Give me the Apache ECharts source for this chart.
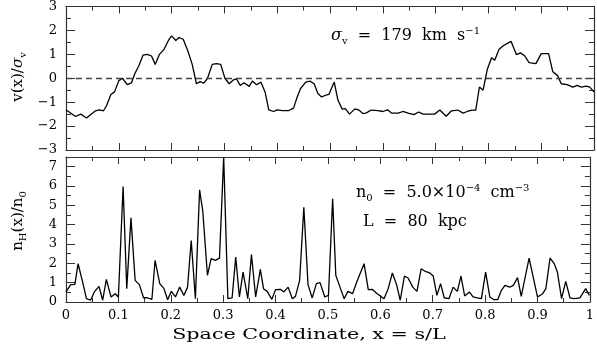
<!DOCTYPE html>
<html>
<head>
<meta charset="utf-8">
<script src="https://cdn.jsdelivr.net/npm/echarts@6/dist/echarts.min.js"></script>
<style>
  html, body { margin: 0; padding: 0; background: #fff; }
  #chart { width: 597px; height: 350px; }
</style>
</head>
<body>
<div id="chart"></div>
<script>
// velocity v(x)/sigma_v along the sightline
const velX = [0, 0.018, 0.028, 0.039, 0.047, 0.056, 0.063, 0.071, 0.077, 0.085, 0.092, 0.100, 0.107, 0.116, 0.124, 0.130,
  0.138, 0.146, 0.154, 0.162, 0.169, 0.177, 0.186, 0.194, 0.200, 0.208, 0.214, 0.222, 0.231, 0.239, 0.247, 0.254,
  0.261, 0.268, 0.277, 0.285, 0.293, 0.301, 0.309, 0.317, 0.323, 0.330, 0.337, 0.347, 0.353, 0.361, 0.369, 0.377,
  0.384, 0.393, 0.400, 0.410, 0.422, 0.431, 0.437, 0.444, 0.454, 0.462, 0.470, 0.477, 0.484, 0.492, 0.498, 0.508,
  0.515, 0.523, 0.529, 0.537, 0.547, 0.554, 0.563, 0.569, 0.578, 0.591, 0.600, 0.609, 0.617, 0.629, 0.638, 0.648,
  0.659, 0.668, 0.676, 0.686, 0.698, 0.708, 0.720, 0.730, 0.742, 0.752, 0.760, 0.769, 0.776, 0.783, 0.790, 0.798,
  0.806, 0.812, 0.820, 0.828, 0.837, 0.843, 0.853, 0.861, 0.869, 0.877, 0.890, 0.900, 0.914, 0.922, 0.931, 0.938,
  0.949, 0.960, 0.968, 0.976, 0.985, 0.992, 1.000];
const velY = [-1.32, -1.6, -1.5, -1.66, -1.52, -1.36, -1.32, -1.36, -1.14, -0.68, -0.57, -0.10, 0.0, -0.27, -0.19, 0.18,
  0.52, 0.97, 1.0, 0.93, 0.58, 1.0, 1.22, 1.58, 1.77, 1.58, 1.7, 1.63, 1.13, 0.58, -0.23, -0.14,
  -0.2, 0.0, 0.58, 0.61, 0.58, 0.0, -0.23, -0.07, -0.03, -0.3, -0.19, -0.34, -0.12, -0.27, -0.16, -0.57,
  -1.32, -1.39, -1.32, -1.35, -1.35, -1.25, -0.84, -0.44, -0.16, -0.12, -0.23, -0.64, -0.78, -0.71, -0.67, -0.16,
  -0.91, -1.29, -1.27, -1.5, -1.28, -1.32, -1.48, -1.45, -1.33, -1.35, -1.39, -1.32, -1.46, -1.46, -1.39, -1.46,
  -1.52, -1.41, -1.5, -1.5, -1.5, -1.33, -1.59, -1.36, -1.33, -1.46, -1.39, -1.33, -1.33, -0.37, -0.5, 0.38,
  0.86, 0.75, 1.2, 1.36, 1.47, 1.54, 0.99, 1.06, 0.93, 0.65, 0.61, 1.03, 1.03, 0.27, 0.11, -0.23,
  -0.27, -0.37, -0.30, -0.37, -0.33, -0.37, -0.57];

// density n_H(x)/n_0
const denX = [0, 0.009, 0.017, 0.023, 0.031, 0.039, 0.047, 0.054, 0.063, 0.070, 0.077, 0.086, 0.094, 0.100, 0.109, 0.116,
  0.124, 0.132, 0.140, 0.148, 0.155, 0.164, 0.170, 0.179, 0.187, 0.194, 0.201, 0.209, 0.217, 0.225, 0.232, 0.239,
  0.247, 0.255, 0.261, 0.270, 0.277, 0.285, 0.293, 0.301, 0.309, 0.317, 0.324, 0.331, 0.338, 0.347, 0.354, 0.362,
  0.371, 0.377, 0.384, 0.393, 0.400, 0.410, 0.416, 0.424, 0.432, 0.438, 0.446, 0.454, 0.462, 0.470, 0.478, 0.485,
  0.494, 0.501, 0.509, 0.515, 0.523, 0.531, 0.538, 0.547, 0.555, 0.569, 0.577, 0.585, 0.594, 0.607, 0.615, 0.623,
  0.631, 0.638, 0.646, 0.653, 0.662, 0.670, 0.678, 0.686, 0.694, 0.701, 0.708, 0.715, 0.722, 0.731, 0.739, 0.747,
  0.754, 0.761, 0.770, 0.777, 0.785, 0.793, 0.801, 0.809, 0.817, 0.824, 0.831, 0.838, 0.847, 0.854, 0.862, 0.869,
  0.884, 0.900, 0.910, 0.916, 0.924, 0.932, 0.938, 0.946, 0.954, 0.962, 0.970, 0.981, 0.992, 0.999];
const denY = [0.52, 0.9, 0.91, 1.98, 1.12, 0.17, 0.09, 0.52, 0.81, 0.09, 1.17, 0.26, 0.43, 0.26, 5.97, 0.69,
  4.35, 1.12, 0.9, 0.22, 0.22, 0.14, 2.15, 0.95, 0.69, 0.12, 0.55, 0.26, 0.77, 0.34, 0.77, 3.18,
  0.17, 5.8, 4.73, 1.38, 2.24, 2.15, 2.27, 7.5, 0.17, 0.21, 2.32, 0.26, 1.55, 0.17, 2.46, 0.26,
  1.69, 0.69, 0.55, 0.14, 0.64, 0.65, 0.52, 0.77, 0.17, 0.29, 1.12, 4.9, 0.9, 0.21, 0.95, 1.0,
  0.26, 0.34, 5.34, 1.38, 0.77, 0.17, 0.55, 0.43, 1.03, 1.98, 0.64, 0.65, 0.43, 0.17, 0.69, 1.5,
  0.9, 0.09, 1.34, 1.24, 0.77, 0.55, 1.72, 1.58, 1.51, 1.34, 0.34, 0.95, 0.22, 0.17, 0.77, 0.55,
  1.34, 0.31, 0.52, 0.26, 0.21, 0.17, 1.55, 0.26, 0.12, 0.12, 0.6, 0.86, 0.77, 0.86, 1.26, 0.29,
  2.27, 0.26, 0.43, 0.69, 2.27, 1.98, 1.55, 0.17, 1.07, 0.21, 0.17, 0.21, 0.69, 0.34];

const FONT = 'DejaVu Serif';
const AXIS_COLOR = '#333';

const zip = (xs, ys) => xs.map((x, i) => [x, ys[i]]);
const minus = (v) => (v < 0 ? '\u2212' + Math.abs(v) : String(v));

// rich text pieces: normal, italic, subscript, superscript
const rich = (size) => ({
  a: { fontFamily: FONT, fontSize: size, fill: '#000', lineHeight: 20 },
  g: { fontFamily: FONT, fontSize: size, fill: '#000', lineHeight: 20, fontStyle: 'italic' },
  s: { fontFamily: FONT, fontSize: 10, fill: '#000', lineHeight: 10, verticalAlign: 'bottom' },
  p: { fontFamily: FONT, fontSize: 10, fill: '#000', lineHeight: 10, verticalAlign: 'top' }
});

function xAx(gridIndex, position, withLabels) {
  return {
    type: 'value', gridIndex, position, min: 0, max: 1, interval: 0.1,
    axisLine: { show: true, onZero: false, lineStyle: { color: AXIS_COLOR, width: 1.2 } },
    axisTick: { show: true, inside: true, length: 7, lineStyle: { color: AXIS_COLOR } },
    minorTick: { show: true, splitNumber: 2, length: 4, lineStyle: { color: AXIS_COLOR } },
    splitLine: { show: false },
    axisLabel: {
      show: withLabels, margin: 7, color: '#000', fontFamily: FONT, fontSize: 13,
      formatter: (v) => String(+v.toFixed(2))
    }
  };
}

function yAx(gridIndex, position, min, max, withLabels) {
  return {
    type: 'value', gridIndex, position, min, max, interval: 1,
    axisLine: { show: true, onZero: false, lineStyle: { color: AXIS_COLOR, width: 1.2 } },
    axisTick: { show: true, inside: true, length: 9, lineStyle: { color: AXIS_COLOR } },
    minorTick: { show: true, splitNumber: 2, length: 5, lineStyle: { color: AXIS_COLOR } },
    splitLine: { show: false },
    axisLabel: {
      show: withLabels, margin: 9, color: '#000', fontFamily: FONT, fontSize: 13,
      showMaxLabel: max === 3, formatter: minus
    }
  };
}

const chart = echarts.init(document.getElementById('chart'));

const option = {
  backgroundColor: '#fff',
  animation: false,
  grid: [
    { left: 66, right: 3, top: 4, height: 146 },
    { left: 66, right: 3, top: 157, height: 145 }
  ],
  xAxis: [
    xAx(0, 'bottom', false),
    xAx(0, 'top', false),
    xAx(1, 'bottom', true),
    xAx(1, 'top', false)
  ],
  yAxis: [
    yAx(0, 'left', -3, 3, true),
    yAx(0, 'right', -3, 3, false),
    yAx(1, 'left', 0, 7.5, true),
    yAx(1, 'right', 0, 7.5, false)
  ],
  graphic: [
    {
      // x axis title (wide plotter lettering)
      type: 'text', x: 309, y: 335, scaleX: 1.38, silent: true,
      style: {
        text: 'Space Coordinate, x = s/L', font: '15px "DejaVu Serif"', fill: '#000',
        align: 'center', verticalAlign: 'middle'
      }
    },
    {
      type: 'text', x: 18, y: 77, rotation: Math.PI / 2, silent: true,
      style: { text: '{a|v(x)/}{g|σ}{s|v}', rich: rich(15), align: 'center', verticalAlign: 'middle' }
    },
    {
      type: 'text', x: 18, y: 221, rotation: Math.PI / 2, silent: true,
      style: { text: '{a|n}{s|H}{a|(x)/n}{s|0}', rich: rich(15), align: 'center', verticalAlign: 'middle' }
    },
    {
      type: 'text', x: 331, y: 36, silent: true,
      style: { text: '{g|σ}{s|v}{a|  =  179  km  s}{p|\u22121}', rich: rich(16), verticalAlign: 'middle' }
    },
    {
      type: 'text', x: 356, y: 193, silent: true,
      style: { text: '{a|n}{s|0}{a|  =  5.0×10}{p|\u22124}{a|  cm}{p|\u22123}', rich: rich(16), verticalAlign: 'middle' }
    },
    {
      type: 'text', x: 363, y: 222, silent: true,
      style: { text: 'L  =  80  kpc', font: '16px "DejaVu Serif"', fill: '#000', verticalAlign: 'middle' }
    }
  ],
  series: [
    {
      type: 'line', xAxisIndex: 0, yAxisIndex: 0,
      data: zip(velX, velY),
      showSymbol: false, silent: true,
      lineStyle: { color: '#000', width: 1.3 },
      markLine: {
        silent: true, symbol: 'none', label: { show: false },
        lineStyle: { color: '#444', type: [6, 4], width: 1.3 },
        data: [{ yAxis: 0 }]
      }
    },
    {
      type: 'line', xAxisIndex: 2, yAxisIndex: 2,
      data: zip(denX, denY),
      showSymbol: false, silent: true, clip: false,
      lineStyle: { color: '#000', width: 1.3 }
    }
  ]
};

chart.setOption(option);
</script>
</body>
</html>
